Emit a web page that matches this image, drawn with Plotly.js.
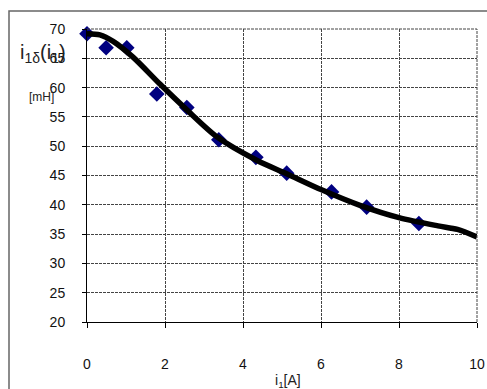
<!DOCTYPE html>
<html>
<head>
<meta charset="utf-8">
<script src="https://cdn.plot.ly/plotly-3.0.1.min.js"></script>
<style>
  html, body { margin: 0; padding: 0; background: #fff; }
  #chart { width: 487px; height: 389px; }
</style>
</head>
<body>
<div id="chart"></div>
<script>
// Measured inductance points
const measCurrent = [0, 0.49, 1.02, 1.79, 2.56, 3.38, 4.33, 5.12, 6.27, 7.17, 8.51];
const measInductance = [69.2, 66.8, 66.8, 58.9, 56.6, 51.1, 48.1, 45.4, 42.2, 39.6, 36.8];

// Fitted characteristic
const fitCurrent = [0, 0.33, 0.67, 1.18, 1.87, 2.56, 3.33, 4.35, 5.12, 6.0, 7.0, 8.0, 9.0, 9.5, 10];
const fitInductance = [69.2, 69.0, 67.9, 65.2, 60.6, 56.2, 51.6, 47.6, 45.3, 42.6, 39.9, 37.8, 36.4, 35.8, 34.5];

const xTicks = [0, 2, 4, 6, 8, 10];
const yTicks = [20, 25, 30, 35, 40, 45, 50, 55, 60, 65, 70];

const FONT = 'Liberation Sans, Arial, sans-serif';

const traces = [
  {
    x: measCurrent, y: measInductance,
    type: 'scatter', mode: 'markers',
    marker: { symbol: 'diamond', size: 12, color: '#000080' },
    cliponaxis: false, hoverinfo: 'skip'
  },
  {
    x: fitCurrent, y: fitInductance,
    type: 'scatter', mode: 'lines',
    line: { color: '#000', width: 5.5, shape: 'spline', smoothing: 0.8 },
    cliponaxis: false, hoverinfo: 'skip'
  }
];

const gridStyle = { showgrid: true, gridcolor: '#444', gridwidth: 1, griddash: '3px,1px' };

const layout = {
  width: 487, height: 389,
  margin: { l: 87, r: 10, t: 29, b: 67 },
  paper_bgcolor: '#fff', plot_bgcolor: '#fff',
  showlegend: false,
  font: { family: FONT, size: 14, color: '#111' },
  xaxis: Object.assign({
    range: [0, 10], tickvals: xTicks, ticktext: xTicks.map(String),
    showline: true, linecolor: '#000', linewidth: 1,
    ticks: 'outside', ticklen: 5, tickcolor: '#000',
    ticklabelstandoff: 24, zeroline: false,
    tickfont: { family: FONT, size: 14, color: '#111' }
  }, gridStyle),
  yaxis: Object.assign({
    range: [20, 70], tickvals: yTicks, ticktext: yTicks.map(String),
    showline: true, linecolor: '#000', linewidth: 1,
    ticks: 'outside', ticklen: 4, tickcolor: '#000',
    ticklabelstandoff: 14, zeroline: false,
    tickfont: { family: FONT, size: 14, color: '#111' }
  }, gridStyle),
  shapes: [
    // outer frame
    { type: 'rect', xref: 'paper', yref: 'paper', x0: -0.2, x1: 1.2, y0: -0.4, y1: 1.0614,
      line: { color: '#666', width: 1.5 }, fillcolor: 'rgba(0,0,0,0)', layer: 'below' },
    // dashed top and right edges of the plot area
    { type: 'line', xref: 'paper', yref: 'paper', x0: 0, x1: 1, y0: 1, y1: 1,
      line: { color: '#444', width: 1, dash: '3px,1px' } },
    { type: 'line', xref: 'paper', yref: 'paper', x0: 1, x1: 1, y0: 0, y1: 1,
      line: { color: '#444', width: 1, dash: '3px,1px' } }
  ],
  annotations: [
    { xref: 'paper', yref: 'paper', x: -0.177, y: 0.918, xanchor: 'left', yanchor: 'middle',
      text: 'i<sub>1δ</sub>(i<sub>1</sub>)', showarrow: false,
      font: { family: FONT, size: 20, color: '#222' } },
    { xref: 'paper', yref: 'paper', x: -0.154, y: 0.768, xanchor: 'left', yanchor: 'middle',
      text: '[mH]', showarrow: false,
      font: { family: FONT, size: 12, color: '#222' } },
    { xref: 'paper', yref: 'paper', x: 0.515, y: -0.201, xanchor: 'center', yanchor: 'middle',
      text: 'i<sub>1</sub>[A]', showarrow: false,
      font: { family: FONT, size: 14, color: '#222' } }
  ]
};

Plotly.newPlot('chart', traces, layout, { staticPlot: true, displayModeBar: false });
</script>
</body>
</html>
